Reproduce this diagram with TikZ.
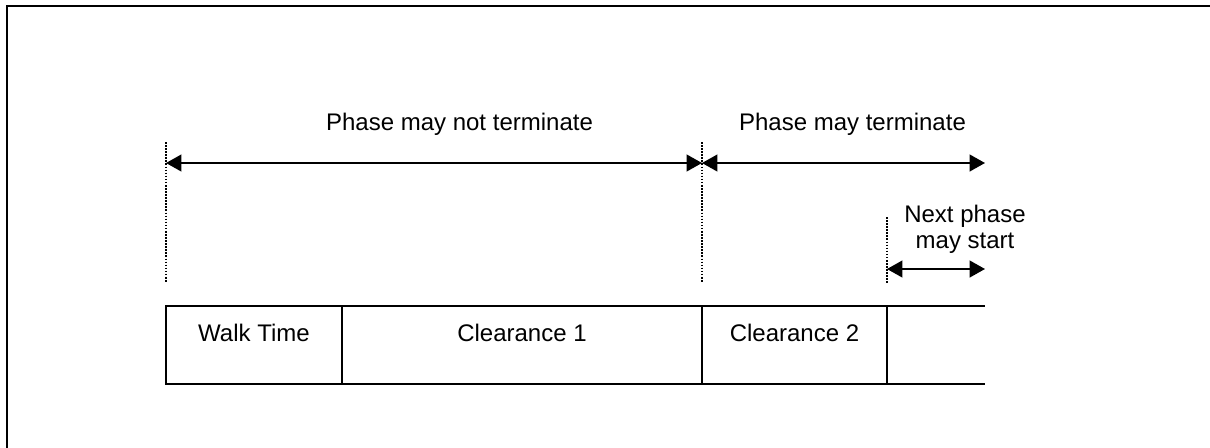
\documentclass[tikz,border=0pt]{standalone}
\usepackage{fontspec}
\setmainfont{Liberation Sans}
\usetikzlibrary{arrows.meta,calc}

\begin{document}
\begin{tikzpicture}[
  x=0.75pt, y=-0.75pt,
  font=\fontsize{18}{19.5}\selectfont,
  frame/.style={draw, line width=1.5pt},
  cell/.style={
    draw,
    line width=1.1pt,
    inner sep=0pt,
    outer sep=0pt,
    minimum height=58.5pt,
    anchor=north west
  },
  rail/.style={line width=1.1pt},
  guide/.style={line width=1.2pt, dash pattern=on 1.2pt off 1.1pt},
  span/.style={{Triangle[length=11.5pt,width=12.5pt]}-{Triangle[length=11.5pt,width=12.5pt]}, line width=1.5pt},
  tag/.style={anchor=base, inner sep=0pt},
  head/.style={anchor=base, inner sep=0pt, align=center}
]

\clip (0,0) rectangle (1210,447);
\draw[frame] (7,6) rectangle (1240,480);

% signal cells
\node[cell, minimum width=132pt] (walk) at (166,306) {};
\node[cell, minimum width=270pt] (clr1) at (walk.north east) {};
\node[cell, minimum width=138.75pt] (clr2) at (clr1.north east) {};
\coordinate (tailtop) at (985,306);
\coordinate (tailbot) at (985,384);
\draw[rail] (clr2.north east) -- (tailtop);
\draw[rail] (clr2.south east) -- (tailbot);

\node[tag] (walklbl) at ($(walk.north)+(0,35)$) {Walk Time};
\node[tag] (clr1lbl) at ($(clr1.north)+(0,35)$) {Clearance 1};
\node[tag] (clr2lbl) at ($(clr2.north)+(0,35)$) {Clearance 2};

% guides
\coordinate (g1top) at (166,142);
\coordinate (g1bot) at (166,283);
\coordinate (g2top) at (702,142);
\coordinate (g2bot) at (702,283);
\coordinate (g3top) at (887,217);
\coordinate (g3bot) at (887,283);
\draw[guide] (g1top) -- (g1bot);
\draw[guide] (g2top) -- (g2bot);
\draw[guide] (g3top) -- (g3bot);

% spans
\coordinate (s1a) at (166,163);
\coordinate (s1b) at (702,163);
\coordinate (s2b) at (985,163);
\coordinate (s3a) at (887,269);
\coordinate (s3b) at (985,269);
\draw[span] (s1a) -- (s1b);
\draw[span] (s1b) -- (s2b);
\draw[span] (s3a) -- (s3b);

\node[head] (notterm) at (459.5,130) {Phase may not terminate};
\node[head] (mayterm) at (852.5,130) {Phase may terminate};
\node[head] (nextph) at (965,248) {Next phase\\may start};

\end{tikzpicture}
\end{document}
